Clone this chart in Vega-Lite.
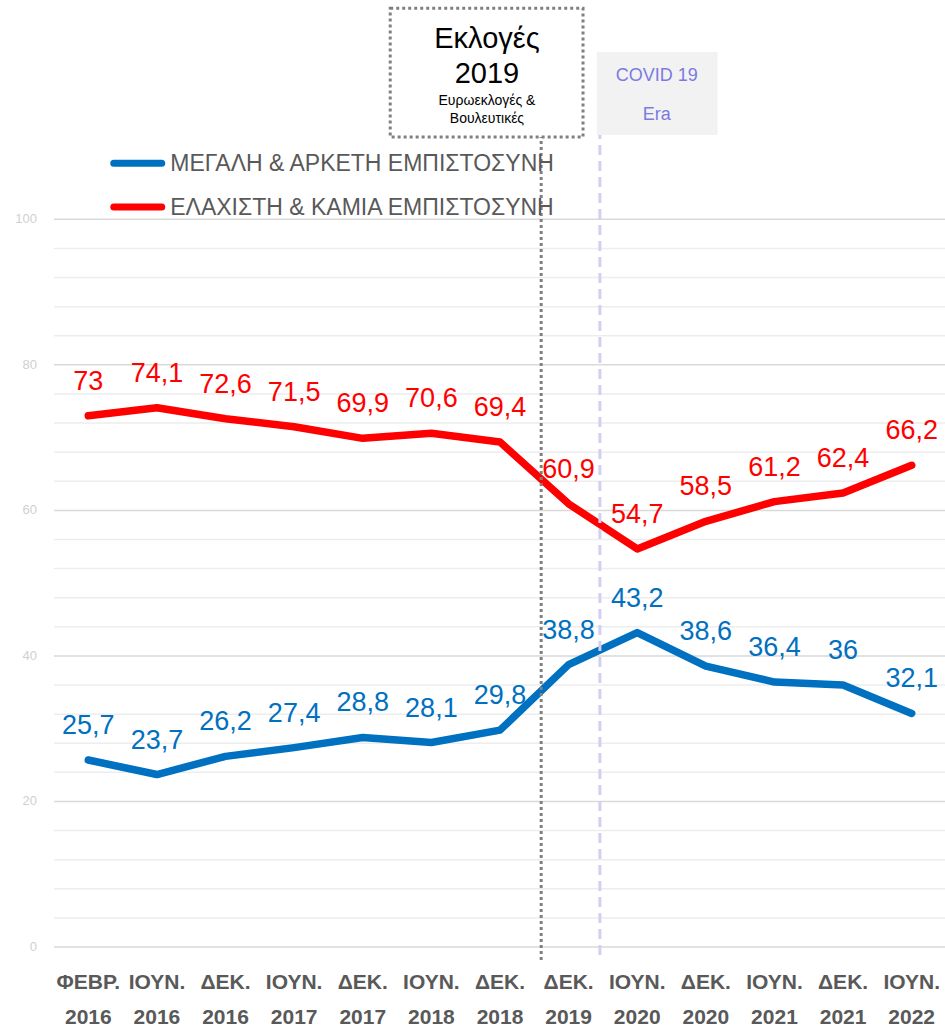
{
  "$schema": "https://vega.github.io/schema/vega-lite/v6.json",
  "width": 892,
  "height": 946,
  "autosize": {"type": "none"},
  "padding": {"left": 54, "top": 1, "right": 0, "bottom": 82},
  "background": "white",
  "config": {
    "view": {"stroke": null},
    "font": "Liberation Sans"
  },
  "data": {
    "values": [
      {"i": 0, "period": "ΦΕΒΡ. 2016", "series": "ΜΕΓΑΛΗ & ΑΡΚΕΤΗ ΕΜΠΙΣΤΟΣΥΝΗ", "value": 25.7},
      {"i": 1, "period": "ΙΟΥΝ. 2016", "series": "ΜΕΓΑΛΗ & ΑΡΚΕΤΗ ΕΜΠΙΣΤΟΣΥΝΗ", "value": 23.7},
      {"i": 2, "period": "ΔΕΚ. 2016", "series": "ΜΕΓΑΛΗ & ΑΡΚΕΤΗ ΕΜΠΙΣΤΟΣΥΝΗ", "value": 26.2},
      {"i": 3, "period": "ΙΟΥΝ. 2017", "series": "ΜΕΓΑΛΗ & ΑΡΚΕΤΗ ΕΜΠΙΣΤΟΣΥΝΗ", "value": 27.4},
      {"i": 4, "period": "ΔΕΚ. 2017", "series": "ΜΕΓΑΛΗ & ΑΡΚΕΤΗ ΕΜΠΙΣΤΟΣΥΝΗ", "value": 28.8},
      {"i": 5, "period": "ΙΟΥΝ. 2018", "series": "ΜΕΓΑΛΗ & ΑΡΚΕΤΗ ΕΜΠΙΣΤΟΣΥΝΗ", "value": 28.1},
      {"i": 6, "period": "ΔΕΚ. 2018", "series": "ΜΕΓΑΛΗ & ΑΡΚΕΤΗ ΕΜΠΙΣΤΟΣΥΝΗ", "value": 29.8},
      {"i": 7, "period": "ΔΕΚ. 2019", "series": "ΜΕΓΑΛΗ & ΑΡΚΕΤΗ ΕΜΠΙΣΤΟΣΥΝΗ", "value": 38.8},
      {"i": 8, "period": "ΙΟΥΝ. 2020", "series": "ΜΕΓΑΛΗ & ΑΡΚΕΤΗ ΕΜΠΙΣΤΟΣΥΝΗ", "value": 43.2},
      {"i": 9, "period": "ΔΕΚ. 2020", "series": "ΜΕΓΑΛΗ & ΑΡΚΕΤΗ ΕΜΠΙΣΤΟΣΥΝΗ", "value": 38.6},
      {"i": 10, "period": "ΙΟΥΝ. 2021", "series": "ΜΕΓΑΛΗ & ΑΡΚΕΤΗ ΕΜΠΙΣΤΟΣΥΝΗ", "value": 36.4},
      {"i": 11, "period": "ΔΕΚ. 2021", "series": "ΜΕΓΑΛΗ & ΑΡΚΕΤΗ ΕΜΠΙΣΤΟΣΥΝΗ", "value": 36},
      {"i": 12, "period": "ΙΟΥΝ. 2022", "series": "ΜΕΓΑΛΗ & ΑΡΚΕΤΗ ΕΜΠΙΣΤΟΣΥΝΗ", "value": 32.1},
      {"i": 0, "period": "ΦΕΒΡ. 2016", "series": "ΕΛΑΧΙΣΤΗ & ΚΑΜΙΑ ΕΜΠΙΣΤΟΣΥΝΗ", "value": 73},
      {"i": 1, "period": "ΙΟΥΝ. 2016", "series": "ΕΛΑΧΙΣΤΗ & ΚΑΜΙΑ ΕΜΠΙΣΤΟΣΥΝΗ", "value": 74.1},
      {"i": 2, "period": "ΔΕΚ. 2016", "series": "ΕΛΑΧΙΣΤΗ & ΚΑΜΙΑ ΕΜΠΙΣΤΟΣΥΝΗ", "value": 72.6},
      {"i": 3, "period": "ΙΟΥΝ. 2017", "series": "ΕΛΑΧΙΣΤΗ & ΚΑΜΙΑ ΕΜΠΙΣΤΟΣΥΝΗ", "value": 71.5},
      {"i": 4, "period": "ΔΕΚ. 2017", "series": "ΕΛΑΧΙΣΤΗ & ΚΑΜΙΑ ΕΜΠΙΣΤΟΣΥΝΗ", "value": 69.9},
      {"i": 5, "period": "ΙΟΥΝ. 2018", "series": "ΕΛΑΧΙΣΤΗ & ΚΑΜΙΑ ΕΜΠΙΣΤΟΣΥΝΗ", "value": 70.6},
      {"i": 6, "period": "ΔΕΚ. 2018", "series": "ΕΛΑΧΙΣΤΗ & ΚΑΜΙΑ ΕΜΠΙΣΤΟΣΥΝΗ", "value": 69.4},
      {"i": 7, "period": "ΔΕΚ. 2019", "series": "ΕΛΑΧΙΣΤΗ & ΚΑΜΙΑ ΕΜΠΙΣΤΟΣΥΝΗ", "value": 60.9},
      {"i": 8, "period": "ΙΟΥΝ. 2020", "series": "ΕΛΑΧΙΣΤΗ & ΚΑΜΙΑ ΕΜΠΙΣΤΟΣΥΝΗ", "value": 54.7},
      {"i": 9, "period": "ΔΕΚ. 2020", "series": "ΕΛΑΧΙΣΤΗ & ΚΑΜΙΑ ΕΜΠΙΣΤΟΣΥΝΗ", "value": 58.5},
      {"i": 10, "period": "ΙΟΥΝ. 2021", "series": "ΕΛΑΧΙΣΤΗ & ΚΑΜΙΑ ΕΜΠΙΣΤΟΣΥΝΗ", "value": 61.2},
      {"i": 11, "period": "ΔΕΚ. 2021", "series": "ΕΛΑΧΙΣΤΗ & ΚΑΜΙΑ ΕΜΠΙΣΤΟΣΥΝΗ", "value": 62.4},
      {"i": 12, "period": "ΙΟΥΝ. 2022", "series": "ΕΛΑΧΙΣΤΗ & ΚΑΜΙΑ ΕΜΠΙΣΤΟΣΥΝΗ", "value": 66.2}
    ]
  },
  "layer": [
    {
      "data": {"values": [{"g": 0}, {"g": 4}, {"g": 8}, {"g": 12}, {"g": 16}, {"g": 20}, {"g": 24}, {"g": 28}, {"g": 32}, {"g": 36}, {"g": 40}, {"g": 44}, {"g": 48}, {"g": 52}, {"g": 56}, {"g": 60}, {"g": 64}, {"g": 68}, {"g": 72}, {"g": 76}, {"g": 80}, {"g": 84}, {"g": 88}, {"g": 92}, {"g": 96}, {"g": 100}]},
      "mark": {"type": "rule", "strokeWidth": 1.5},
      "encoding": {
        "y": {"field": "g", "type": "quantitative", "axis": null},
        "stroke": {"condition": {"test": "datum.g % 20 === 0", "value": "#d9d9d9"}, "value": "#ededed"}
      }
    },
    {
      "data": {"values": [{"g": 0}, {"g": 20}, {"g": 40}, {"g": 60}, {"g": 80}, {"g": 100}]},
      "mark": {"type": "text", "align": "right", "baseline": "middle", "dx": -17, "fontSize": 13, "color": "#d0d0d0", "font": "Liberation Sans"},
      "encoding": {
        "x": {"value": 0},
        "y": {"field": "g", "type": "quantitative", "axis": null},
        "text": {"field": "g", "type": "quantitative"}
      }
    },
    {
      "data": {"values": [{"a": 7.41, "b": 9.17, "lo": 111.6, "hi": 123.0}]},
      "mark": {"type": "rect", "fill": "#f2f2f2"},
      "encoding": {
        "x": {"field": "a", "type": "quantitative", "axis": null},
        "x2": {"field": "b"},
        "y": {"field": "lo", "type": "quantitative", "axis": null},
        "y2": {"field": "hi"}
      }
    },
    {
      "data": {"values": [{"a": 4.40, "b": 7.21, "lo": 111.3, "hi": 129.0}]},
      "mark": {"type": "rect", "fillOpacity": 0, "stroke": "#808080", "strokeWidth": 3, "strokeDash": [3, 3]},
      "encoding": {
        "x": {"field": "a", "type": "quantitative", "axis": null},
        "x2": {"field": "b"},
        "y": {"field": "lo", "type": "quantitative", "axis": null},
        "y2": {"field": "hi"}
      }
    },
    {
      "mark": {"type": "line", "strokeWidth": 7.5, "strokeCap": "round", "strokeJoin": "round"},
      "encoding": {
        "x": {"field": "i", "type": "quantitative", "scale": {"domain": [-0.5, 12.5], "nice": false, "zero": false}, "axis": null},
        "y": {"field": "value", "type": "quantitative", "scale": {"domain": [0, 130], "nice": false, "zero": true}, "axis": null},
        "color": {
          "field": "series", "type": "nominal",
          "scale": {"domain": ["ΜΕΓΑΛΗ & ΑΡΚΕΤΗ ΕΜΠΙΣΤΟΣΥΝΗ", "ΕΛΑΧΙΣΤΗ & ΚΑΜΙΑ ΕΜΠΙΣΤΟΣΥΝΗ"], "range": ["#0070c0", "#ff0000"]},
          "legend": null
        }
      }
    },
    {
      "data": {"values": [{"a": 6.60, "lo": -1.8, "hi": 111.3}]},
      "mark": {"type": "rule", "stroke": "#808080", "strokeWidth": 3, "strokeDash": [3, 3]},
      "encoding": {
        "x": {"field": "a", "type": "quantitative", "axis": null},
        "y": {"field": "lo", "type": "quantitative", "axis": null},
        "y2": {"field": "hi"}
      }
    },
    {
      "data": {"values": [{"a": 7.456, "lo": -1.1, "hi": 111.6}]},
      "mark": {"type": "rule", "stroke": "#d0d0f2", "strokeWidth": 3, "strokeDash": [10, 6]},
      "encoding": {
        "x": {"field": "a", "type": "quantitative", "axis": null},
        "y": {"field": "lo", "type": "quantitative", "axis": null},
        "y2": {"field": "hi"}
      }
    },
    {
      "data": {"values": [
        {"series": "ΜΕΓΑΛΗ & ΑΡΚΕΤΗ ΕΜΠΙΣΤΟΣΥΝΗ", "a": 0.371, "b": 1.07, "y": 107.7},
        {"series": "ΕΛΑΧΙΣΤΗ & ΚΑΜΙΑ ΕΜΠΙΣΤΟΣΥΝΗ", "a": 0.371, "b": 1.07, "y": 101.7}
      ]},
      "mark": {"type": "rule", "strokeWidth": 7, "strokeCap": "round"},
      "encoding": {
        "x": {"field": "a", "type": "quantitative", "axis": null},
        "x2": {"field": "b"},
        "y": {"field": "y", "type": "quantitative", "axis": null},
        "color": {"field": "series", "type": "nominal", "legend": null}
      }
    },
    {
      "data": {"values": [
        {"series": "ΜΕΓΑΛΗ & ΑΡΚΕΤΗ ΕΜΠΙΣΤΟΣΥΝΗ", "a": 1.194, "y": 106.6},
        {"series": "ΕΛΑΧΙΣΤΗ & ΚΑΜΙΑ ΕΜΠΙΣΤΟΣΥΝΗ", "a": 1.194, "y": 100.6}
      ]},
      "mark": {"type": "text", "fontSize": 23, "color": "#595959", "align": "left", "baseline": "alphabetic", "font": "Liberation Sans"},
      "encoding": {
        "x": {"field": "a", "type": "quantitative", "axis": null},
        "y": {"field": "y", "type": "quantitative", "axis": null},
        "text": {"field": "series", "type": "nominal"}
      }
    },
    {
      "transform": [{"calculate": "replace(format(datum.value, '.1~f'), '.', ',')", "as": "label"}],
      "mark": {"type": "text", "fontSize": 27, "baseline": "alphabetic", "align": "center", "dy": -26, "font": "Liberation Sans"},
      "encoding": {
        "x": {"field": "i", "type": "quantitative", "axis": null},
        "y": {"field": "value", "type": "quantitative", "axis": null},
        "text": {"field": "label", "type": "nominal"},
        "color": {"field": "series", "type": "nominal", "legend": null}
      }
    },
    {
      "transform": [{"filter": "datum.series === 'ΜΕΓΑΛΗ & ΑΡΚΕΤΗ ΕΜΠΙΣΤΟΣΥΝΗ'"}],
      "mark": {"type": "text", "fontSize": 21, "fontWeight": "bold", "color": "#595959", "baseline": "alphabetic", "align": "center", "dy": 42, "lineBreak": " ", "lineHeight": 35, "font": "Liberation Sans"},
      "encoding": {
        "x": {"field": "i", "type": "quantitative", "axis": null},
        "y": {"value": 946},
        "text": {"field": "period", "type": "nominal"}
      }
    },
    {
      "data": {"values": [{"a": 5.81, "b": 123.5, "t": "Εκλογές|2019"}]},
      "mark": {"type": "text", "fontSize": 29, "color": "#000000", "baseline": "alphabetic", "align": "center", "lineBreak": "|", "lineHeight": 35, "font": "Liberation Sans"},
      "encoding": {
        "x": {"field": "a", "type": "quantitative", "axis": null},
        "y": {"field": "b", "type": "quantitative", "axis": null},
        "text": {"field": "t", "type": "nominal"}
      }
    },
    {
      "data": {"values": [{"a": 5.81, "b": 115.7, "t": "Ευρωεκλογές &|Βουλευτικές"}]},
      "mark": {"type": "text", "fontSize": 14, "color": "#000000", "baseline": "alphabetic", "align": "center", "lineBreak": "|", "lineHeight": 18, "font": "Liberation Sans"},
      "encoding": {
        "x": {"field": "a", "type": "quantitative", "axis": null},
        "y": {"field": "b", "type": "quantitative", "axis": null},
        "text": {"field": "t", "type": "nominal"}
      }
    },
    {
      "data": {"values": [{"a": 8.286, "b": 119.0, "t": "COVID 19|Era"}]},
      "mark": {"type": "text", "fontSize": 18, "color": "#7b7bdf", "baseline": "alphabetic", "align": "center", "lineBreak": "|", "lineHeight": 39, "font": "Liberation Sans"},
      "encoding": {
        "x": {"field": "a", "type": "quantitative", "axis": null},
        "y": {"field": "b", "type": "quantitative", "axis": null},
        "text": {"field": "t", "type": "nominal"}
      }
    }
  ]
}
